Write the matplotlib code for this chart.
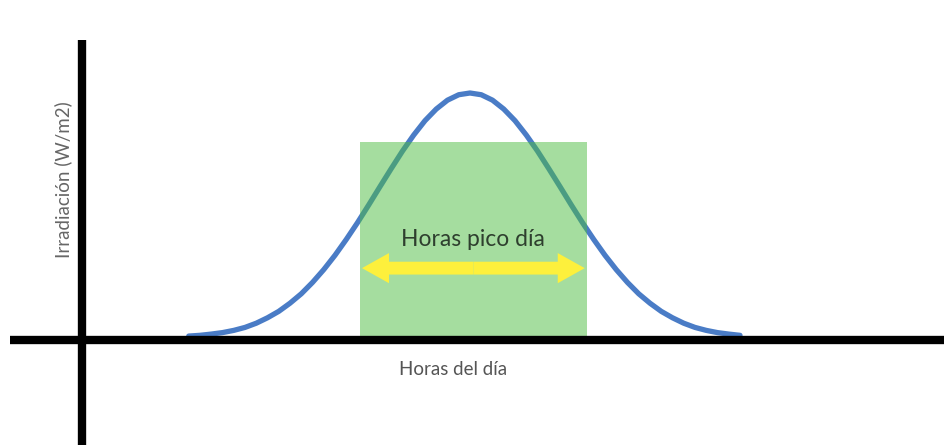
import numpy as np
import matplotlib.pyplot as plt
from matplotlib.patches import Rectangle

# irradiance over the day (hour, W/m2), read every quarter hour
hours = [5.75, 6.0, 6.25, 6.5, 6.75, 7.0, 7.25, 7.5, 7.75, 8.0, 8.25, 8.5, 8.75,
         9.0, 9.25, 9.5, 9.75, 10.0, 10.25, 10.5, 10.75, 11.0, 11.25, 11.5,
         11.75, 12.0, 12.25, 12.5, 12.75, 13.0, 13.25, 13.5, 13.75, 14.0,
         14.25, 14.5, 14.75, 15.0, 15.25, 15.5, 15.75, 16.0, 16.25, 16.5,
         16.75, 17.0, 17.25, 17.5, 17.75, 18.0]
irradiance = [16, 19, 24, 30, 39, 51, 68, 90, 116, 149, 187, 233, 285,
              343, 407, 475, 547, 621, 694, 765, 830, 888, 935, 971,
              993, 1000, 993, 971, 935, 888, 830, 765, 694, 621,
              547, 475, 407, 343, 285, 233, 187, 149, 116, 90,
              68, 51, 39, 30, 24, 19]

# peak sun hours block
peak_start, peak_end = 9.55, 14.6
peak_level = 800
arrow_level = 291

axis_x = 3.38      # hour where the vertical axis sits
axis_top = 1214

fig = plt.figure(figsize=(9.44, 4.45), dpi=100)
ax = fig.add_axes([0, 0, 1, 1])
ax.set_xlim(1.556, 22.533)
ax.set_ylim(-425, 1376.5)
ax.axis("off")

ax.plot(hours, irradiance, color="#4a7cc6", lw=3.8, solid_capstyle="round",
        solid_joinstyle="round", zorder=2)

ax.add_patch(Rectangle((peak_start, 0), peak_end - peak_start, peak_level,
                       facecolor="#4cbd40", alpha=0.5, lw=0, zorder=3))

# double headed arrow from the middle outwards
mid = (peak_start + peak_end) / 2
for end in (peak_start + 0.05, peak_end - 0.05):
    ax.arrow(mid, arrow_level, end - mid, 0, width=52, head_width=122,
             head_length=0.6, length_includes_head=True, color="#fdf03c",
             lw=0, zorder=4)

ax.text(mid, arrow_level + 114, "Horas pico día", ha="center", va="center",
        fontsize=16.5, family="Lato", color="#2e3f2e", zorder=5)

# axes drawn as thick black lines
ax.axhline(0, xmin=0.0106, color="black", lw=6, solid_capstyle="butt", zorder=6)
ax.plot([axis_x, axis_x], [-425, axis_top], color="black", lw=6,
        solid_capstyle="butt", zorder=6)

ax.text(11.62, -121, "Horas del día", ha="center", va="center",
        fontsize=13.5, family="Lato", color="#555555")
ax.text(2.96, 648, "Irradiación (W/m2)", ha="center", va="center",
        rotation=90, fontsize=13.5, family="Lato", color="#666666")

fig.savefig("out.png", dpi=100, facecolor="white")
